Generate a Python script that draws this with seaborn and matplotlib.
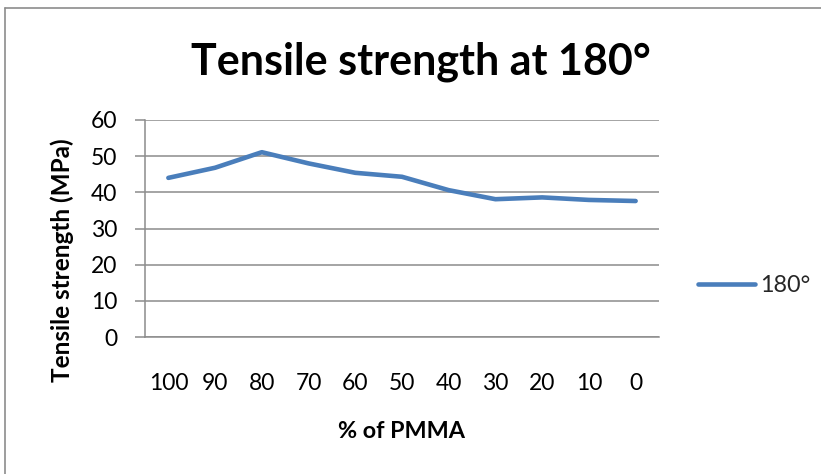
import matplotlib
matplotlib.use("Agg")
import matplotlib.pyplot as plt
import seaborn as sns
import pandas as pd
from matplotlib.lines import Line2D

categories = ["100", "90", "80", "70", "60", "50", "40", "30", "20", "10", "0"]
values_180 = [44.0, 46.8, 51.1, 48.0, 45.4, 44.3, 40.6, 38.1, 38.6, 37.9, 37.6]
yticks = [0, 10, 20, 30, 40, 50, 60]
series_name = "180°"

sns.set_theme(style="white")
plt.rcParams['font.family'] = ['Lato', 'DejaVu Sans']

df = pd.DataFrame({"pmma": categories, "ts": values_180, "series": series_name})

W, H = 821, 474
fig = plt.figure(figsize=(W / 100, H / 100), dpi=100)
ax = fig.add_axes([145 / W, 1 - 337 / H, (659 - 145) / W, (337 - 120) / H])

sns.lineplot(data=df, x="pmma", y="ts", hue="series", palette=["#4A7EBB"],
             linewidth=3.3, sort=False, ax=ax, legend=False)

ax.set_xlim(-0.5, len(categories) - 0.5)
ax.set_ylim(0, 60)
ax.set_yticks(yticks)
ax.yaxis.grid(True, color="#8C8C8C", linewidth=1.1)
ax.xaxis.grid(False)
for s in ["top", "right"]:
    ax.spines[s].set_visible(False)
for s in ["left", "bottom"]:
    ax.spines[s].set_color("#8C8C8C")
    ax.spines[s].set_linewidth(1.1)

ax.tick_params(axis="y", which="both", left=True, length=7, width=1.1, color="#8C8C8C",
               pad=13, labelsize=16.5, labelcolor="#000000")
ax.tick_params(axis="x", which="both", bottom=False, length=0, pad=26,
               labelsize=16.5, labelcolor="#000000")

ax.set_xlabel("% of PMMA", fontsize=16.8, fontweight="bold", color="#000000")
ax.xaxis.set_label_coords((401 - 145) / (659 - 145), -(431 - 337) / (337 - 120))
ax.xaxis.label.set_va("center")
ax.set_ylabel("Tensile strength (MPa)", fontsize=17.5, fontweight="bold", color="#000000")
ax.yaxis.set_label_coords(-(145 - 62) / (659 - 145), (337 - 260) / (337 - 120))
ax.yaxis.label.set_va("center")

fig.text(421 / W, 1 - 75 / H, "Tensile strength at 180°", ha="center", va="baseline",
         fontsize=31, fontweight="bold", color="#000000")

handles = [Line2D([0], [0], color="#4A7EBB", linewidth=3.3)]
fig.legend(handles, [series_name], loc="center left",
           bbox_to_anchor=(698 / W, 1 - 286 / H), frameon=False, fontsize=16.8,
           handlelength=2.45, handletextpad=0.22, borderaxespad=0, borderpad=0)

fig.add_artist(Line2D([5 / W, 1.0], [1 - 8 / H, 1 - 8 / H], transform=fig.transFigure,
                      color="#8C8C8C", linewidth=1.2))
fig.add_artist(Line2D([5 / W, 5 / W], [0, 1 - 8 / H], transform=fig.transFigure,
                      color="#8C8C8C", linewidth=1.2))

fig.savefig("out.png", dpi=100)
